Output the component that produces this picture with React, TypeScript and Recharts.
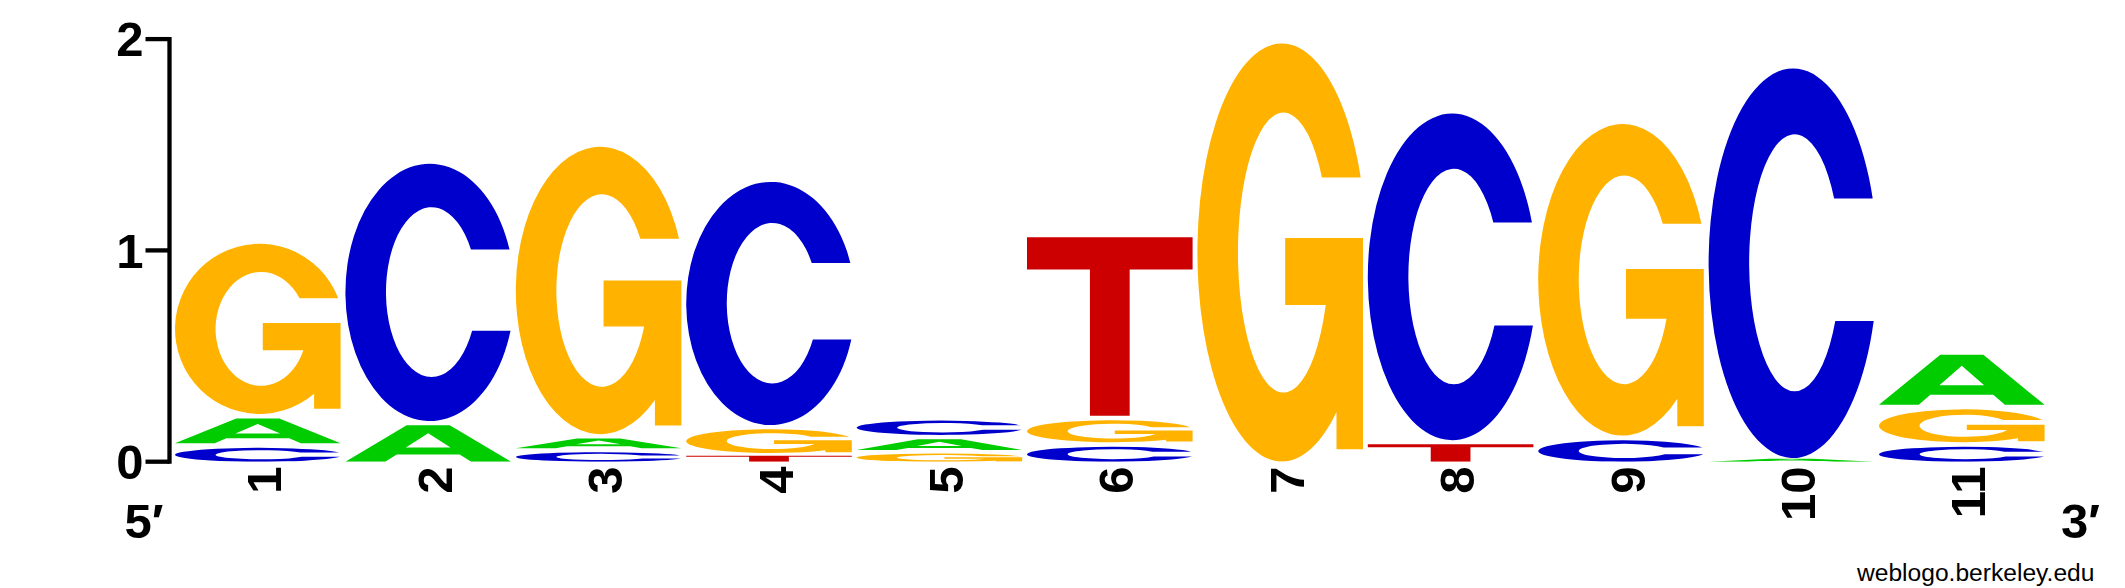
import { BarChart, Bar, XAxis, YAxis, Customized } from 'recharts'

const FONT = "'Liberation Sans', Arial, Helvetica, sans-serif"

// positions along the motif
const positions = ['1', '2', '3', '4', '5', '6', '7', '8', '9', '10', '11']

// information (bits) carried by each base at each position
const bitsA = [0.139, 0.194, 0.066, 0, 0.072, 0, 0, 0, 0, 0.02, 0.258]
const bitsC = [0.087, 1.239, 0.064, 1.172, 0.089, 0.092, 0, 1.567, 0.123, 1.865, 0.092]
const bitsG = [0.826, 0, 1.381, 0.134, 0.055, 0.126, 2.0, 0, 1.496, 0, 0.177]
const bitsT = [0, 0, 0, 0.041, 0, 0.865, 0, 0.104, 0, 0, 0]

const yTicks = [0, 1, 2]

const letterColors: Record<string, string> = {
	A: '#00CC00',
	C: '#0000CC',
	G: '#FFB300',
	T: '#CC0000'
}

// glyph outlines in a 100x100 box, stretched to each stack cell
const glyphPaths: Record<string, string> = {
	A: 'M0,100 L37,0 L63,0 L100,100 L76,100 L69,80 L31,80 L24,100 Z M50,22 L63.5,61 L36.5,61 Z',
	C: 'M99.1,33.5 A51,50 0 1 0 99.7,65 L76.5,65 A27.5,33 0 1 1 75.8,33.5 Z',
	G: 'M98.6,32 A51,50 0 1 0 84,88.1 L84,97 L100,97 L100,46.5 L53,46.5 L53,62.5 L77.5,62.5 A27.5,33.5 0 1 1 75.2,32 Z',
	T: 'M0,0 H100 V18 H62 V100 H38 V18 H0 Z'
}

// each column is stacked smallest at the bottom, largest on top
const rows = positions.map((pos, i) => {
	const stack: [string, number][] = [
		['A', bitsA[i]],
		['C', bitsC[i]],
		['G', bitsG[i]],
		['T', bitsT[i]]
	]
	const present = stack.filter(([, v]) => v > 0).sort((a, b) => a[1] - b[1])
	const row: any = { pos, h0: 0, h1: 0, h2: 0, h3: 0 }
	present.forEach(([l, v], k) => {
		row['h' + k] = v
		row['l' + k] = l
	})
	return row
})

const letterShape = (rank: number) => (props: any) => {
	const { x, y, width, height, payload } = props
	const letter = payload && payload['l' + rank]
	if (!letter || !(height > 0)) return <g />
	const pad = Math.min(4.5, height * 0.3)
	const gx = x + 2.2
	const gw = width - 4.4
	const gy = y + pad
	const gh = height - pad
	return (
		<path
			d={glyphPaths[letter]}
			fill={letterColors[letter]}
			fillRule='evenodd'
			transform={`translate(${gx},${gy}) scale(${gw / 100},${gh / 100})`}
		/>
	)
}

const PositionTick = (props: any) => {
	const { x, y, payload } = props
	return (
		<text
			transform={`translate(${x + 23.3},${y + 4.7}) rotate(-90)`}
			textAnchor='end'
			fill='#000'
			fontSize={49}
			fontWeight='bold'
			fontFamily={FONT}
		>
			{payload.value}
		</text>
	)
}

const Annotations = () => (
	<g fontFamily={FONT} fill='#000'>
		<text x={124.4} y={537.5} fontSize={49} fontWeight='bold'>
			5′
		</text>
		<text x={2061} y={537.5} fontSize={49} fontWeight='bold'>
			3′
		</text>
		<text x={1857} y={580.8} fontSize={24.6}>
			weblogo.berkeley.edu
		</text>
	</g>
)

function App() {
	return (
		<div style={{ position: 'absolute', left: 0, top: 0, width: 2125, height: 588, background: '#fff' }}>
			<BarChart
				width={2125}
				height={588}
				data={rows}
				margin={{ top: 39.1, right: 77.8, bottom: 46.3, left: 19.5 }}
				barCategoryGap={0}
				barGap={0}
			>
				<XAxis
					dataKey='pos'
					type='category'
					interval={0}
					height={80}
					padding={{ left: 3.3, right: 0 }}
					axisLine={false}
					tickLine={false}
					tickSize={0}
					tickMargin={0}
					tick={(p: any) => <PositionTick {...p} />}
				/>
				<YAxis
					type='number'
					domain={[0, 2]}
					ticks={yTicks}
					interval={0}
					allowDataOverflow
					width={150}
					axisLine={{ stroke: '#000', strokeWidth: 4.3, strokeLinecap: 'square' }}
					tickLine={{ stroke: '#000', strokeWidth: 4.3 }}
					tickSize={24}
					tickMargin={2}
					tick={{ fill: '#000', fontSize: 49, fontWeight: 'bold', fontFamily: FONT }}
				/>
				{[0, 1, 2, 3].map((k) => (
					<Bar
						key={k}
						dataKey={'h' + k}
						stackId='logo'
						isAnimationActive={false}
						shape={letterShape(k)}
					/>
				))}
				<Customized component={Annotations} />
			</BarChart>
		</div>
	)
}

export default App
